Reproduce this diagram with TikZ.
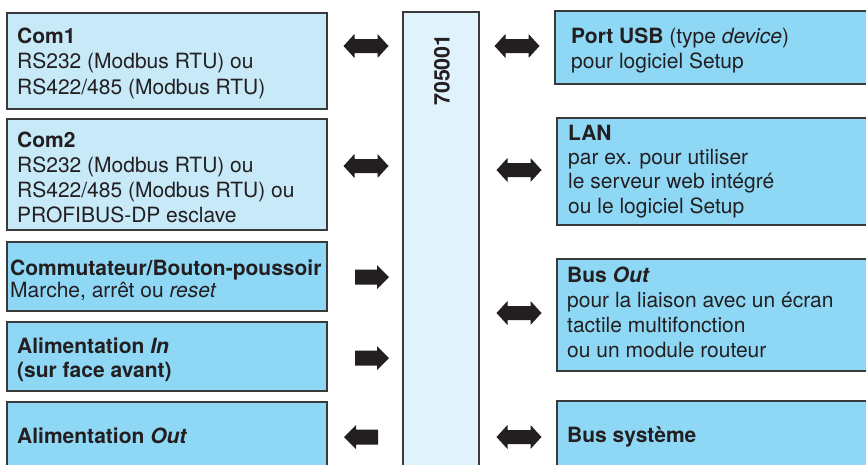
\documentclass[tikz,border=0pt]{standalone}
\usepackage{fontspec}
\setmainfont{TeX Gyre Heros}
\definecolor{boxline}{HTML}{3A3A3A}
\definecolor{lightblue}{HTML}{C7E9F8}
\definecolor{darkblue}{HTML}{8ED8F6}
\definecolor{centerblue}{HTML}{E0F2FC}
\definecolor{textcol}{HTML}{231F20}
\definecolor{arrowcol}{HTML}{231F20}
\begin{document}
\begin{tikzpicture}[x=1pt,y=-1pt,
  box/.style={draw=boxline,line width=1.8pt},
  lightbox/.style={box,fill=lightblue},
  darkbox/.style={box,fill=darkblue},
  txt/.style={anchor=base west,inner sep=0pt,align=left,text=textcol,font=\fontsize{21}{24.8}\selectfont},
  arr/.style={fill=arrowcol,draw=none},
  dbl/.pic={\path[arr] (-22.5,0) -- (-11.5,-12) -- (-11.5,-7) -- (11.5,-7) -- (11.5,-12) -- (22.5,0) -- (11.5,12) -- (11.5,7) -- (-11.5,7) -- (-11.5,12) -- cycle;},
  rarr/.pic={\path[arr] (-34,-7.5) -- (-12,-7.5) -- (-12,-12) -- (0,0) -- (-12,12) -- (-12,7.5) -- (-34,7.5) -- cycle;},
  larr/.pic={\path[arr] (34,-7.5) -- (12,-7.5) -- (12,-12) -- (0,0) -- (12,12) -- (12,7.5) -- (34,7.5) -- cycle;}]
\useasboundingbox (0,0) rectangle (866,464);
\clip (0,0) rectangle (866,464);
% left boxes
\draw[lightbox] (7,13) rectangle (327,109);
\draw[lightbox] (7,119) rectangle (327,230);
\draw[darkbox] (7,242) rectangle (327,311);
\draw[darkbox] (7,322) rectangle (327,391);
\draw[darkbox] (7,402) rectangle (327,480);
% center box
\draw[box,fill=centerblue] (403,12) rectangle (479,480);
% right boxes
\draw[darkbox] (555,11) rectangle (880,84);
\draw[darkbox] (557,118) rectangle (880,225);
\draw[darkbox] (557,259) rectangle (880,371);
\draw[darkbox] (557,401) rectangle (880,480);
% texts (anchored at the baseline of the last line)
\node[txt,font=\fontsize{21}{25.5}\selectfont] (com1) at (17,94) {\textbf{Com1}\\RS232 (Modbus RTU) ou\\RS422/485 (Modbus RTU)};
\node[txt] (com2) at (17,222) {\textbf{Com2}\\RS232 (Modbus RTU) ou\\RS422/485 (Modbus RTU) ou\\PROFIBUS-DP esclave};
\node[txt,font=\fontsize{21}{22.5}\selectfont] (switch) at (10,297.5) {\textbf{Commutateur/Bouton-poussoir}\\Marche, arrêt ou \textit{reset}};
\node[txt,font=\fontsize{21}{24}\selectfont\bfseries] (pin) at (17,377) {Alimentation \textit{In}\\(sur face avant)};
\node[txt,font=\fontsize{21}{24.5}\selectfont\bfseries] (pout) at (17,443) {Alimentation \textit{Out}};
\node[rotate=90,inner sep=0pt,text=textcol,font=\fontsize{21.5}{24.5}\selectfont\bfseries] (dev) at (442,70) {705001};
\node[txt,font=\fontsize{21}{25}\selectfont] (usb) at (571,68) {\textbf{Port USB} (type \textit{device})\\pour logiciel Setup};
\node[txt,font=\fontsize{21}{24.3}\selectfont] (lan) at (568,213) {\textbf{LAN}\\par ex. pour utiliser\\le serveur web intégré\\ou le logiciel Setup};
\node[txt,font=\fontsize{21}{25}\selectfont] (busout) at (567,357) {\textbf{Bus \textit{Out}}\\pour la liaison avec un écran\\tactile multifonction\\ou un module routeur};
\node[txt,font=\fontsize{21}{24.5}\selectfont\bfseries] (bussys) at (567,442) {Bus système};
% arrows
\pic at (366,46) {dbl};
\pic at (366,166) {dbl};
\pic at (389,277) {rarr};
\pic at (389,358) {rarr};
\pic at (344,437) {larr};
\pic at (517,46) {dbl};
\pic at (519,170) {dbl};
\pic at (519,313) {dbl};
\pic at (519,437) {dbl};
\end{tikzpicture}
\end{document}
